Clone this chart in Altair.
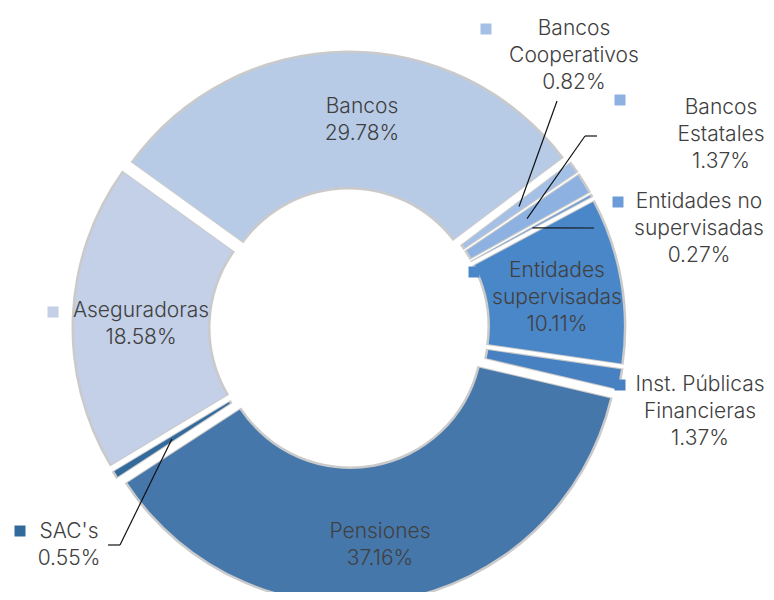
import math
import altair as alt
import pandas as pd

# ---------------- data ----------------
categories = ["Bancos", "Bancos Cooperativos", "Bancos Estatales", "Entidades no supervisadas",
              "Entidades supervisadas", "Inst. Públicas Financieras", "Pensiones", "SAC's", "Aseguradoras"]
shares = [29.78, 0.82, 1.37, 0.27, 10.11, 1.37, 37.16, 0.55, 18.58]
name_lines = [["Bancos"], ["Bancos", "Cooperativos"], ["Bancos", "Estatales"],
              ["Entidades no", "supervisadas"], ["Entidades", "supervisadas"],
              ["Inst. Públicas", "Financieras"], ["Pensiones"], ["SAC's"], ["Aseguradoras"]]
colors = ["#b7cbe7", "#a4c0e6", "#8db2e1", "#6b9cd8", "#4a87c9", "#4881c1", "#4677ab", "#336a9c", "#c3d0e7"]

# ---------------- layout (page px -> view px) ----------------
OFF = 8
W, H = 758, 584
CX, CY = 349 - OFF, 328 - OFF
R_OUT, R_IN = 267, 133
EXPLODE = 8
A0 = math.radians(-54.2)
TOTAL = sum(shares)
LINE_H = 27
FONT = "Inter"
FSIZE = 21
TXT = "#404040"

# label block: text centre x, first line y, marker x, marker y (page coords)
label_pos = {
    "Bancos": (362, 107, 309, 107),
    "Bancos Cooperativos": (574, 29, 486, 29),
    "Bancos Estatales": (721, 108, 620, 100),
    "Entidades no supervisadas": (699, 202, 618, 202),
    "Entidades supervisadas": (557, 271, 474, 272),
    "Inst. Públicas Financieras": (700, 385, 620, 385),
    "Pensiones": (380, 532, 310, 533),
    "SAC's": (69, 532, 20, 531),
    "Aseguradoras": (141, 311, 53, 312),
}
# leader line start points (page coords), ending in the slice
leader_start = {
    "Bancos Cooperativos": [(557, 101)],
    "Bancos Estatales": [(597, 136), (585, 136)],
    "Entidades no supervisadas": [(594, 228)],
    "SAC's": [(108, 545), (120, 545)],
}
R_LEAD = 201

df = pd.DataFrame({"name": categories, "value": shares, "order": list(range(len(categories)))})

TWO_PI = 2 * math.pi


def arc_base():
    return (
        alt.Chart(df)
        .transform_window(cum="sum(value)", sort=[alt.SortField("order")], frame=[None, 0])
        .transform_calculate(t0="datum.cum - datum.value")
        .transform_calculate(mid=f"{A0} + {TWO_PI} * (datum.t0 + datum.cum) / 2 / {TOTAL}")
        .transform_calculate(cx=f"{CX} + {EXPLODE} * sin(datum.mid)",
                             cy=f"{CY} - {EXPLODE} * cos(datum.mid)")
    )


theta_enc = dict(
    theta=alt.Theta("t0:Q", scale=alt.Scale(domain=[0, TOTAL], range=[A0, A0 + TWO_PI]), stack=False),
    theta2="cum:Q",
    x=alt.X("cx:Q", scale=None, axis=None, stack=False),
    y=alt.Y("cy:Q", scale=None, axis=None, stack=False),
)

shadow = arc_base().mark_arc(
    outerRadius=R_OUT + 2.5, innerRadius=R_IN - 2.5, padAngle=0.003, color="#8a8a8a", opacity=0.45
).encode(**theta_enc)

arcs = arc_base().mark_arc(outerRadius=R_OUT, innerRadius=R_IN, padAngle=0.01).encode(
    color=alt.Color("name:N", scale=alt.Scale(domain=categories, range=colors), legend=None),
    **theta_enc,
)

# text rows
rows = []
mark_rows = []
for name, v, nl in zip(categories, shares, name_lines):
    tx, ty, mx, my = label_pos[name]
    lines = nl + [f"{v:.2f}%"]
    for i, ln in enumerate(lines):
        rows.append({"t": ln, "x": tx - OFF, "y": ty - OFF + i * LINE_H})
    mark_rows.append({"name": name, "x": mx - OFF, "y": my - OFF})

texts = alt.Chart(pd.DataFrame(rows)).mark_text(
    font=FONT, fontSize=FSIZE, fontWeight=300, color=TXT, align="center", baseline="middle"
).encode(x=alt.X("x:Q", scale=None, axis=None), y=alt.Y("y:Q", scale=None, axis=None), text="t:N")

markers = alt.Chart(pd.DataFrame(mark_rows)).mark_square(size=121, opacity=1).encode(
    x=alt.X("x:Q", scale=None, axis=None), y=alt.Y("y:Q", scale=None, axis=None),
    color=alt.Color("name:N", scale=alt.Scale(domain=categories, range=colors), legend=None),
)

# leader lines
cum = 0.0
seg = []
for name, v in zip(categories, shares):
    mid = A0 + TWO_PI * (cum + v / 2) / TOTAL
    cum += v
    if name in leader_start:
        ex = CX + (R_LEAD + EXPLODE) * math.sin(mid)
        ey = CY - (R_LEAD + EXPLODE) * math.cos(mid)
        pts = [(x - OFF, y - OFF) for x, y in leader_start[name]] + [(ex, ey)]
        for (x1, y1), (x2, y2) in zip(pts[:-1], pts[1:]):
            seg.append({"x": x1, "y": y1, "x2": x2, "y2": y2})

leaders = alt.Chart(pd.DataFrame(seg)).mark_rule(color="#111111", strokeWidth=1.2).encode(
    x=alt.X("x:Q", scale=None, axis=None), y=alt.Y("y:Q", scale=None, axis=None),
    x2="x2:Q", y2="y2:Q",
)

chart = (
    alt.layer(shadow, arcs, leaders, markers, texts)
    .properties(width=W, height=H, padding=0, autosize="none")
    .configure_view(stroke=None)
)

chart.save("out.html", embed_options={"renderer": "svg", "actions": False})
